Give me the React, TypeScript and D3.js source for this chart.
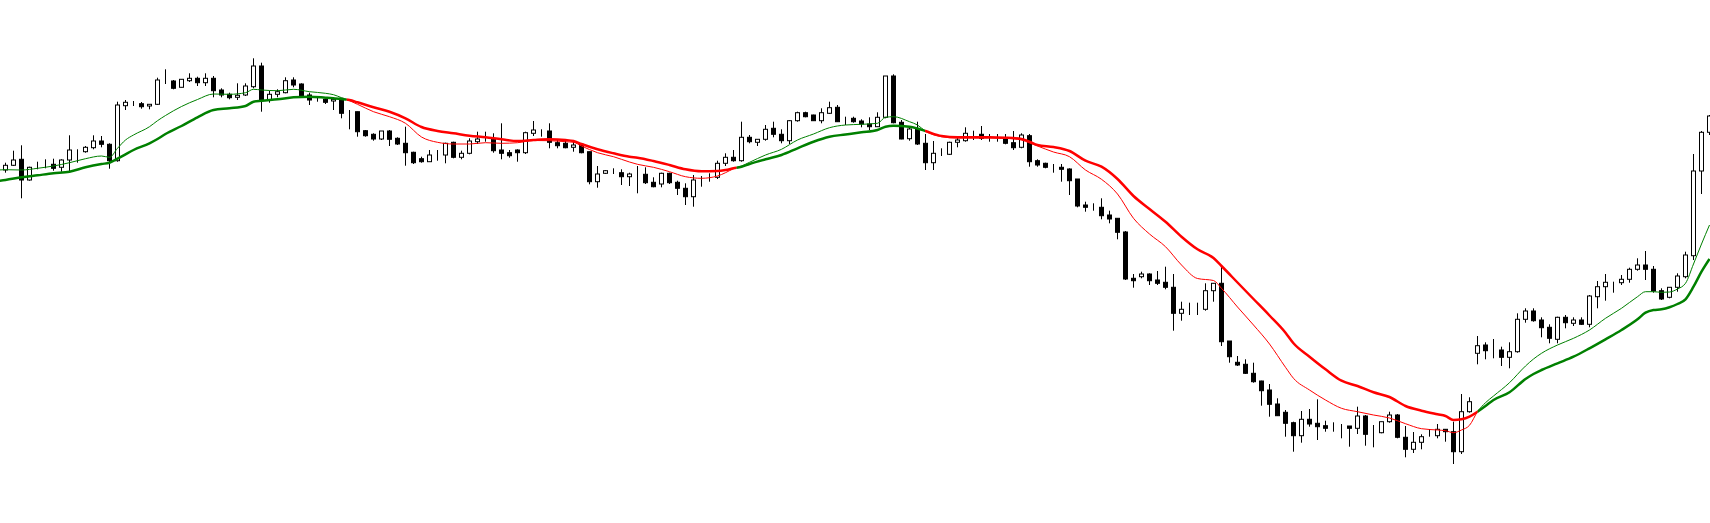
import React, { useEffect, useRef } from 'react';
import * as d3 from 'd3';

const open = [
  43.0, 43.47, 44.07, 42.0, 43.4, 43.47, 43.57, 43.27, 44.0, 45.0, 44.83, 45.23, 45.9, 45.57, 43.93, 49.43, 49.67, 49.63, 49.4, 49.57,
  52.0, 51.9, 51.27, 51.93, 52.17, 51.73, 52.17, 51.0, 50.57, 50.27, 50.5, 51.33, 53.4, 50.0, 50.57, 50.73, 52.0, 51.6, 50.5, 50.0,
  50.07, 49.9, 50.17, 48.77, 48.83, 46.93, 46.57, 46.1, 46.9, 46.17, 45.67, 44.77, 44.13, 43.83, 44.5, 44.5, 45.77, 44.27, 44.67, 45.83,
  46.1, 46.07, 45.0, 44.73, 45.0, 44.73, 46.67, 47.0, 46.9, 45.73, 45.67, 45.27, 45.57, 44.83, 41.83, 42.67, 42.83, 42.73, 42.33, 42.57,
  42.57, 41.77, 41.6, 42.67, 41.77, 41.17, 40.33, 42.0, 42.33, 42.27, 43.67, 44.27, 43.93, 46.27, 45.77, 46.07, 47.17, 46.57, 45.93, 47.93,
  48.73, 48.5, 47.93, 48.67, 49.27, 47.83, 48.17, 47.9, 47.6, 47.33, 48.27, 52.4, 47.77, 46.13, 47.07, 45.67, 43.73, 44.67, 44.57, 45.77,
  45.93, 46.73, 46.57, 46.4, 46.33, 46.17, 45.73, 45.27, 46.43, 43.93, 43.67, 43.27, 43.27, 43.1, 42.1, 39.5, 39.23, 39.27, 38.5, 38.17,
  36.8, 32.17, 32.33, 32.6, 32.0, 31.77, 31.27, 28.67, 29.1, 29.17, 29.07, 30.93, 31.67, 25.9, 23.77, 23.57, 22.67, 21.9, 21.0, 19.6,
  18.77, 17.73, 16.43, 18.07, 17.67, 17.43, 17.27, 17.17, 17.4, 17.17, 18.4, 16.57, 16.73, 17.83, 18.5, 16.27, 15.07, 15.77, 16.43, 16.43,
  17.07, 16.83, 14.83, 18.83, 24.67, 25.5, 25.0, 25.0, 24.27, 24.83, 28.07, 28.9, 28.0, 27.27, 26.07, 28.27, 27.67, 28.0, 27.57, 30.33,
  31.33, 31.77, 31.73, 32.07, 33.07, 33.5, 33.07, 30.93, 30.27, 31.27, 32.33, 34.43, 42.9, 46.77,
];

const high = [
  43.73, 44.93, 45.47, 43.33, 43.83, 44.07, 44.13, 44.07, 46.47, 45.07, 45.4, 46.47, 46.4, 45.67, 49.83, 50.0, 49.9, 49.8, 49.57, 52.23,
  53.07, 52.0, 52.07, 52.67, 52.33, 52.67, 52.4, 51.17, 50.73, 51.67, 51.67, 54.17, 53.73, 50.93, 51.07, 52.27, 52.27, 51.67, 50.73, 50.33,
  50.17, 50.17, 50.17, 49.0, 48.83, 47.0, 46.67, 46.9, 47.0, 46.27, 47.33, 44.83, 44.33, 45.0, 45.0, 45.73, 45.83, 44.93, 46.17, 46.83,
  46.83, 46.67, 47.67, 45.0, 45.07, 46.83, 47.9, 47.07, 47.67, 46.0, 45.93, 46.0, 45.67, 44.83, 43.4, 43.0, 43.17, 43.07, 42.73, 43.4,
  43.27, 42.27, 42.73, 42.73, 41.93, 41.67, 42.5, 42.4, 42.67, 43.93, 44.67, 45.0, 47.83, 46.5, 46.07, 47.5, 47.83, 47.07, 48.0, 48.83,
  48.83, 48.53, 49.17, 49.83, 49.5, 48.33, 48.33, 48.07, 48.27, 48.77, 52.4, 52.57, 48.0, 47.33, 47.83, 46.6, 45.9, 45.17, 45.83, 46.33,
  47.27, 46.93, 47.4, 46.6, 46.6, 46.6, 46.9, 46.67, 46.6, 44.07, 43.73, 43.6, 43.6, 43.17, 42.1, 39.83, 39.67, 40.17, 38.93, 38.17,
  36.9, 32.6, 32.83, 32.67, 32.9, 33.33, 32.6, 29.83, 29.73, 29.73, 31.67, 31.67, 33.33, 25.9, 24.4, 24.07, 23.73, 21.93, 21.6, 20.17,
  19.0, 17.83, 18.9, 19.1, 20.07, 17.93, 17.77, 17.6, 17.4, 19.33, 18.5, 17.5, 17.83, 18.83, 18.6, 17.4, 16.8, 16.57, 17.1, 17.6,
  17.07, 17.83, 20.6, 20.27, 26.4, 25.77, 26.1, 25.33, 25.77, 28.67, 29.17, 29.17, 28.27, 27.57, 28.33, 28.5, 28.27, 28.27, 30.5, 31.9,
  32.6, 31.83, 32.5, 33.23, 34.17, 34.9, 33.4, 31.17, 31.27, 32.67, 34.83, 44.6, 46.9, 48.5,
];

const low = [
  42.73, 43.4, 40.17, 41.93, 43.07, 43.17, 42.93, 42.83, 42.73, 43.73, 44.73, 45.07, 45.27, 43.13, 43.83, 49.0, 49.4, 49.13, 49.07, 49.5,
  51.6, 51.07, 51.27, 51.8, 51.4, 51.4, 50.27, 50.27, 50.07, 50.0, 50.4, 51.17, 48.83, 49.73, 50.27, 50.67, 51.27, 50.33, 49.5, 49.83,
  49.6, 49.0, 48.17, 47.07, 46.33, 46.33, 45.93, 46.0, 45.4, 45.5, 43.43, 43.6, 43.73, 43.83, 43.93, 43.67, 44.17, 44.07, 44.57, 45.6,
  45.83, 44.73, 44.07, 44.23, 43.83, 44.6, 46.4, 46.33, 45.17, 45.17, 45.17, 44.83, 44.67, 41.57, 41.23, 42.6, 42.6, 41.5, 41.4, 40.67,
  41.6, 41.27, 41.27, 41.6, 40.5, 39.5, 39.33, 41.33, 41.83, 42.1, 43.4, 43.83, 43.83, 45.67, 45.4, 45.93, 46.27, 45.67, 45.6, 47.83,
  48.27, 47.93, 47.67, 48.6, 47.83, 47.5, 47.73, 47.27, 47.0, 47.33, 48.17, 47.67, 46.07, 45.93, 45.5, 43.0, 43.0, 44.4, 44.5, 45.27,
  45.83, 46.0, 46.0, 45.83, 45.83, 45.57, 45.0, 45.17, 43.33, 43.33, 43.17, 42.73, 41.83, 40.5, 39.27, 38.83, 38.93, 38.07, 37.67, 36.07,
  32.0, 31.23, 32.17, 31.5, 31.5, 31.07, 26.93, 27.93, 28.5, 28.5, 28.93, 29.83, 25.4, 23.73, 23.4, 22.6, 21.73, 19.43, 18.33, 18.4,
  16.33, 14.83, 15.73, 17.33, 16.0, 16.83, 16.83, 16.17, 15.33, 16.6, 15.43, 15.27, 16.67, 17.73, 16.17, 14.27, 14.7, 15.07, 16.33, 16.17,
  15.83, 13.6, 14.6, 18.73, 23.57, 24.07, 24.17, 23.4, 23.17, 24.73, 27.73, 27.83, 26.27, 25.67, 25.67, 27.17, 27.4, 27.5, 27.27, 29.17,
  29.93, 30.73, 31.5, 31.73, 32.93, 32.0, 30.73, 30.0, 30.17, 30.83, 32.17, 34.0, 40.6, 46.5,
];

const close = [
  43.47, 44.0, 42.0, 43.27, 43.4, 43.47, 43.17, 44.0, 45.0, 45.0, 45.27, 45.9, 45.57, 43.93, 49.5, 49.77, 49.67, 49.33, 49.57, 52.0,
  52.0, 51.17, 52.07, 52.17, 51.73, 52.17, 50.93, 50.5, 50.23, 50.47, 51.4, 53.4, 49.93, 50.57, 50.83, 51.93, 51.5, 50.4, 50.0, 50.0,
  49.77, 50.07, 48.67, 48.77, 46.83, 46.43, 46.1, 46.9, 46.07, 45.6, 44.73, 43.73, 43.83, 44.5, 44.5, 45.67, 44.27, 44.67, 45.9, 46.1,
  46.1, 44.93, 44.67, 44.43, 44.73, 46.73, 47.0, 47.0, 45.77, 45.43, 45.23, 45.5, 44.73, 41.83, 42.6, 42.93, 42.83, 42.33, 42.6, 42.57,
  41.73, 41.33, 42.67, 41.73, 41.17, 40.33, 42.0, 42.0, 42.33, 43.67, 44.27, 43.93, 46.27, 45.83, 46.07, 47.07, 46.57, 45.93, 47.93, 48.73,
  48.33, 47.93, 48.73, 49.23, 47.83, 47.83, 47.83, 47.6, 47.33, 48.27, 52.4, 47.73, 46.1, 47.1, 45.6, 43.73, 44.67, 44.67, 45.77, 46.0,
  46.67, 46.73, 46.17, 46.4, 46.33, 45.67, 45.23, 46.5, 43.83, 43.5, 43.27, 43.27, 43.07, 41.93, 39.4, 39.27, 39.23, 38.43, 38.1, 36.77,
  32.1, 31.93, 32.6, 31.93, 31.67, 31.27, 28.67, 29.07, 29.1, 29.17, 30.93, 31.67, 25.83, 24.33, 23.5, 22.67, 21.83, 20.93, 19.57, 18.43,
  17.67, 16.43, 18.07, 17.6, 17.33, 17.17, 17.27, 17.17, 17.17, 18.4, 16.57, 16.57, 17.83, 18.5, 16.27, 15.07, 15.77, 16.33, 16.43, 17.07,
  16.83, 14.83, 18.83, 19.83, 25.43, 24.93, 25.0, 24.27, 24.83, 28.07, 28.9, 27.93, 27.23, 26.17, 28.27, 27.73, 28.0, 27.57, 30.4, 31.33,
  31.77, 31.77, 32.07, 33.07, 33.5, 33.07, 30.9, 30.1, 31.27, 32.4, 34.5, 42.9, 46.77, 48.4,
];

// the two moving averages at these bar indices
// (index -1 is the value just left of the first visible bar)
const maIndex = [
  -1, 0, 2, 4, 6, 8, 10, 12, 13, 14, 15, 16, 18, 19, 20, 22, 24, 26, 28, 30, 31, 32, 34, 36, 38, 40, 41, 42, 43, 44, 46, 48, 50, 52, 54,
  56, 58, 60, 62, 64, 66, 68, 70, 71, 72, 74, 76, 78, 79, 81, 83, 85, 87, 89, 90, 91, 92, 93, 95, 97, 99, 101, 103, 105, 107, 109,
  110, 111, 113, 114, 115, 117, 119, 121, 123, 125, 127, 128, 129, 131, 133, 135, 137, 139, 141, 143, 145, 147, 149, 151, 152, 154,
  156, 158, 160, 161, 163, 165, 167, 169, 171, 173, 175, 177, 179, 180, 181, 182, 183, 184, 185, 186, 188, 190, 191, 192, 194, 196,
  198, 200, 202, 204, 205, 206, 207, 208, 209, 210, 211, 212, 213,
];

const fastMa = [
  43.0, 43.03, 43.0, 43.17, 43.4, 43.73, 44.13, 44.4, 44.27, 45.17, 46.0, 46.5, 47.33, 47.93, 48.45, 49.35, 50.05, 50.6, 50.57, 50.73, 51.07,
  51.0, 50.93, 51.07, 50.83, 50.67, 50.53, 50.23, 49.93, 49.57, 48.83, 48.33, 47.67, 46.3, 45.77, 45.6, 45.6, 45.73, 45.67, 45.73, 45.95,
  45.93, 45.83, 45.77, 45.4, 44.73, 44.33, 43.8, 43.57, 43.27, 42.83, 42.33, 42.17, 42.4, 42.73, 43.13, 43.4, 43.77, 44.5, 45.07, 46.0,
  46.6, 47.23, 47.5, 47.57, 47.67, 48.27, 48.33, 47.83, 47.5, 46.88, 46.33, 46.2, 46.2, 46.2, 46.17, 46.0, 45.7, 45.4, 44.8, 44.33,
  43.0, 42.07, 40.6, 38.17, 36.6, 35.33, 33.5, 32.15, 31.95, 31.17, 29.3, 27.5, 25.6, 23.27, 22.17, 21.0, 20.0, 19.17, 18.83, 18.5,
  18.2, 17.63, 17.13, 17.0, 16.93, 16.73, 17.0, 17.47, 18.83, 19.73, 20.4, 21.73, 23.4, 24.1, 24.67, 25.5, 26.17, 27.0, 28.17, 29.17,
  30.33, 30.83, 30.83, 30.77, 30.8, 31.1, 31.67, 33.6, 35.6, 37.5,
];

const slowMa = [
  41.9, 42.0, 42.27, 42.47, 42.67, 42.83, 43.27, 43.6, 43.73, 44.13, 44.57, 45.0, 45.67, 46.1, 46.6, 47.4, 48.27, 49.0, 49.17, 49.4, 49.83,
  49.93, 50.07, 50.27, 50.33, 50.23, 50.17, 50.1, 50.0, 49.77, 49.27, 48.83, 48.17, 47.3, 46.9, 46.67, 46.43, 46.27, 46.07, 45.9, 46.0,
  46.07, 46.0, 45.9, 45.6, 45.07, 44.67, 44.33, 44.23, 43.9, 43.5, 43.07, 42.87, 42.9, 43.0, 43.17, 43.33, 43.6, 44.07, 44.5, 45.17,
  45.83, 46.33, 46.55, 46.77, 47.0, 47.33, 47.43, 47.33, 47.15, 46.9, 46.4, 46.27, 46.27, 46.27, 46.23, 46.1, 45.83, 45.5, 45.3, 44.9,
  43.93, 43.33, 42.1, 40.4, 39.1, 37.83, 36.33, 35.07, 34.2, 33.4, 31.75, 30.1, 28.45, 26.73, 25.67, 24.33, 23.07, 21.93, 21.4, 20.77,
  20.3, 19.4, 18.93, 18.57, 18.4, 18.0, 18.07, 18.33, 18.83, 19.4, 20.0, 20.77, 22.1, 22.6, 23.0, 23.67, 24.33, 25.17, 26.07, 27.0,
  28.07, 28.73, 29.0, 29.07, 29.27, 29.6, 30.07, 31.33, 32.83, 34.1,
];

const UP = '#008000';
const DOWN = '#ff0000';

function CandleChart() {
  const svgRef = useRef<SVGSVGElement>(null);

  useEffect(() => {
    const width = 1710;
    const height = 523;

    const svg = d3.select(svgRef.current).attr('width', width).attr('height', height);
    svg.selectAll('*').remove();

    const bars = close.map((c, i) => ({ i, o: open[i], h: high[i], l: low[i], c }));
    const n = bars.length;

    // bar centres sit on the half pixel so 1px wicks stay crisp
    const x = d3.scaleLinear().domain([0, n - 1]).range([5.5, 5.5 + 8 * (n - 1)]);
    const y = d3.scaleLinear().domain([60, 7.7]).range([0, height]);

    svg.append('rect').attr('width', width).attr('height', height).attr('fill', '#fff');

    const candle = svg.append('g').selectAll('g').data(bars).enter().append('g');

    candle
      .append('line')
      .attr('x1', (d) => x(d.i))
      .attr('x2', (d) => x(d.i))
      .attr('y1', (d) => y(d.h))
      .attr('y2', (d) => y(d.l))
      .attr('stroke', '#000')
      .attr('stroke-width', 1);

    candle
      .append('rect')
      .attr('x', (d) => x(d.i) - 2)
      .attr('width', 4)
      .attr('y', (d) => y(Math.max(d.o, d.c)))
      .attr('height', (d) => Math.abs(y(d.o) - y(d.c)))
      .attr('fill', (d) => (d.c >= d.o ? '#fff' : '#000'))
      .attr('stroke', '#000')
      .attr('stroke-width', 1);

    // split the x range where the fast average crosses the slow one
    const pts = maIndex.map((idx, k) => ({ idx, fast: fastMa[k], slow: slowMa[k] }));
    const runs: { from: number; to: number; up: boolean }[] = [];
    let start = -3;
    let up = pts[0].fast - pts[0].slow > 0;
    for (let k = 1; k < pts.length; k++) {
      const d0 = pts[k - 1].fast - pts[k - 1].slow;
      const d1 = pts[k].fast - pts[k].slow;
      if (d1 > 0 !== up) {
        const t = d0 === d1 ? 0 : d0 / (d0 - d1);
        const cross = pts[k - 1].idx + t * (pts[k].idx - pts[k - 1].idx);
        runs.push({ from: start, to: cross, up });
        start = cross;
        up = d1 > 0;
      }
    }
    runs.push({ from: start, to: n + 2, up });

    const defs = svg.append('defs');
    [true, false].forEach((isUp) => {
      defs
        .append('clipPath')
        .attr('id', isUp ? 'clip-up' : 'clip-down')
        .selectAll('rect')
        .data(runs.filter((r) => r.up === isUp))
        .enter()
        .append('rect')
        .attr('x', (r) => x(r.from))
        .attr('width', (r) => x(r.to) - x(r.from))
        .attr('y', 0)
        .attr('height', height);
    });

    const lineOf = (key: 'fast' | 'slow') =>
      d3
        .line<{ idx: number; fast: number; slow: number }>()
        .x((d) => x(d.idx))
        .y((d) => y(d[key]))
        .curve(d3.curveMonotoneX);

    const series = [
      { key: 'slow' as const, w: 2.5 },
      { key: 'fast' as const, w: 1 },
    ];

    series.forEach((s) => {
      [true, false].forEach((isUp) => {
        svg
          .append('path')
          .datum(pts)
          .attr('d', lineOf(s.key))
          .attr('fill', 'none')
          .attr('stroke', isUp ? UP : DOWN)
          .attr('stroke-width', s.w)
          .attr('stroke-linejoin', 'round')
          .attr('clip-path', `url(#${isUp ? 'clip-up' : 'clip-down'})`);
      });
    });
  }, []);

  return <svg ref={svgRef} style={{ position: 'absolute', left: 0, top: 0, display: 'block' }}></svg>;
}

export default function App() {
  return <CandleChart />;
}
